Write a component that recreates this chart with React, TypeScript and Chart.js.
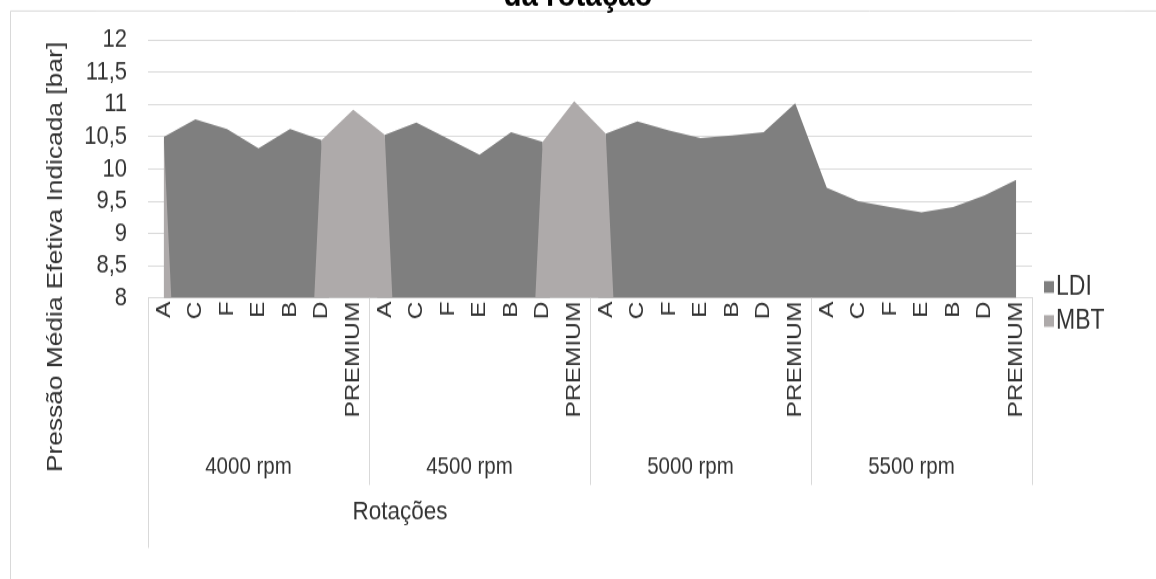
import React, { useEffect, useRef } from 'react';
import { Chart, registerables } from 'chart.js';

Chart.register(...registerables);

// ---------- data ----------
const SUBCATEGORIES = ['A', 'C', 'F', 'E', 'B', 'D', 'PREMIUM'];
const GROUPS = ['4000 rpm', '4500 rpm', '5000 rpm', '5500 rpm'];
const CATEGORIES = GROUPS.flatMap(() => SUBCATEGORIES);

const LDI = [
  10.5, 10.77, 10.62, 10.32, 10.62, 10.45, 0,
  10.53, 10.72, 10.47, 10.22, 10.57, 10.42, 0,
  10.55, 10.74, 10.6, 10.48, 10.52, 10.57, 11.02,
  9.71, 9.5, 9.41, 9.33, 9.41, 9.59, 9.83,
];
const MBT = [
  10.5, 0, 0, 0, 0, 10.45, 10.92,
  10.53, 0, 0, 0, 0, 10.42, 11.05,
  10.55, 0, 0, 0, 0, 0, 0,
  0, 0, 0, 0, 0, 0, 0,
];
const Y_TICK_LABELS = ['8', '8,5', '9', '9,5', '10', '10,5', '11', '11,5', '12'];
const SERIES_NAMES = ['LDI', 'MBT'];
const TITLE_TEXT = 'da rotação';
const Y_TITLE = 'Pressão Média Efetiva Indicada [bar]';
const X_TITLE = 'Rotações';

// ---------- styling ----------
const W = 1156;
const H = 495;
const SY = 579 / H; // vertical stretch of the picture
const FONT = '"Liberation Sans", Arial, sans-serif';
const TEXT = '#333333';
const GRID = '#d9d9d9';
const LDI_COLOR = '#7f7f7f';
const MBT_COLOR = '#aeaaaa';

const decor = {
  id: 'decor',
  afterDraw(chart: any) {
    const { ctx, chartArea } = chart;
    const x = chart.scales.x;
    const step = x.getPixelForValue(1) - x.getPixelForValue(0);
    ctx.save();

    // outer frame
    ctx.strokeStyle = GRID;
    ctx.lineWidth = 1;
    ctx.beginPath();
    ctx.moveTo(10.5, H);
    ctx.lineTo(10.5, 11 / SY);
    ctx.lineTo(W, 11 / SY);
    ctx.stroke();

    // title (second line, partly cut)
    ctx.fillStyle = '#000';
    ctx.font = `bold 29.5px ${FONT}`;
    ctx.textAlign = 'center';
    ctx.textBaseline = 'alphabetic';
    ctx.fillText(TITLE_TEXT, 578, 6 / SY);

    // group dividers
    ctx.strokeStyle = GRID;
    const bounds: number[] = [];
    for (let g = 0; g <= GROUPS.length; g++) {
      const px = g < GROUPS.length
        ? x.getPixelForValue(g * SUBCATEGORIES.length) - step / 2
        : x.getPixelForValue(CATEGORIES.length - 1) + step / 2;
      bounds.push(px);
      const xx = Math.round(px) + 0.5;
      ctx.beginPath();
      ctx.moveTo(xx, chartArea.bottom);
      ctx.lineTo(xx, (g === 0 ? 548 : 485) / SY);
      ctx.stroke();
    }

    // group labels
    ctx.fillStyle = TEXT;
    ctx.font = `20.5px ${FONT}`;
    ctx.textBaseline = 'middle';
    ctx.textAlign = 'center';
    GROUPS.forEach((g, i) => {
      ctx.fillText(g, (bounds[i] + bounds[i + 1]) / 2 - 10, 467 / SY);
    });

    // x title
    ctx.font = `22.5px ${FONT}`;
    ctx.fillText(X_TITLE, 400, 512 / SY);

    // y title
    ctx.save();
    ctx.translate(56, 257 / SY);
    ctx.rotate(-Math.PI / 2);
    ctx.fillText(Y_TITLE, 0, 0);
    ctx.restore();

    // legend
    const items = [
      { name: SERIES_NAMES[0], color: LDI_COLOR, y: 287 },
      { name: SERIES_NAMES[1], color: MBT_COLOR, y: 321 },
    ];
    ctx.font = `23px ${FONT}`;
    ctx.textAlign = 'left';
    items.forEach((it) => {
      const cy = it.y / SY;
      ctx.fillStyle = it.color;
      ctx.fillRect(1044, cy - 5, 10, 10);
      ctx.fillStyle = TEXT;
      ctx.fillText(it.name, 1056, cy);
    });

    ctx.restore();
  },
};

export default function App() {
  const ref = useRef<HTMLCanvasElement>(null);

  useEffect(() => {
    if (!ref.current) return;
    Chart.defaults.font.family = FONT;
    const chart = new Chart(ref.current, {
      type: 'line',
      data: {
        labels: CATEGORIES,
        datasets: [
          {
            label: SERIES_NAMES[0],
            data: LDI,
            backgroundColor: LDI_COLOR,
            borderWidth: 0,
            pointRadius: 0,
            fill: 'origin',
            tension: 0,
            order: 2,
          },
          {
            label: SERIES_NAMES[1],
            data: MBT,
            backgroundColor: MBT_COLOR,
            borderWidth: 0,
            pointRadius: 0,
            fill: 'origin',
            tension: 0,
            order: 1,
          },
        ],
      },
      options: {
        animation: false,
        responsive: false,
        devicePixelRatio: 1,
        events: [],
        layout: { padding: { top: 37 / SY, left: 0, right: W - 1032, bottom: 0 } },
        plugins: {
          legend: { display: false },
          title: { display: false },
          tooltip: { enabled: false },
        },
        scales: {
          x: {
            type: 'category',
            offset: true,
            grid: { display: false, drawTicks: false },
            border: { display: true, color: GRID, width: 1 },
            ticks: {
              autoSkip: false,
              minRotation: 90,
              maxRotation: 90,
              padding: 3,
              color: TEXT,
              font: { size: 21, family: FONT },
            },
            afterFit(scale: any) {
              scale.height = H - 298 / SY;
            },
          },
          y: {
            type: 'linear',
            min: 8,
            max: 12,
            grid: { color: GRID, lineWidth: 1, drawTicks: false },
            border: { display: false },
            ticks: {
              stepSize: 0.5,
              autoSkip: false,
              padding: 21,
              color: TEXT,
              font: { size: 22, family: FONT },
              callback: (_v: any, i: number) => Y_TICK_LABELS[i],
            },
            afterFit(scale: any) {
              scale.width = 148;
            },
          },
        },
      },
      plugins: [decor],
    });
    return () => chart.destroy();
  }, []);

  return (
    <div style={{ position: 'fixed', left: 0, top: 0, width: W, height: 579, overflow: 'hidden', background: '#fff' }}>
      <div style={{ transform: `scaleY(${SY})`, transformOrigin: '0 0', width: W, height: H }}>
        <canvas ref={ref} width={W} height={H} style={{ width: W, height: H, display: 'block' }} />
      </div>
    </div>
  );
}
